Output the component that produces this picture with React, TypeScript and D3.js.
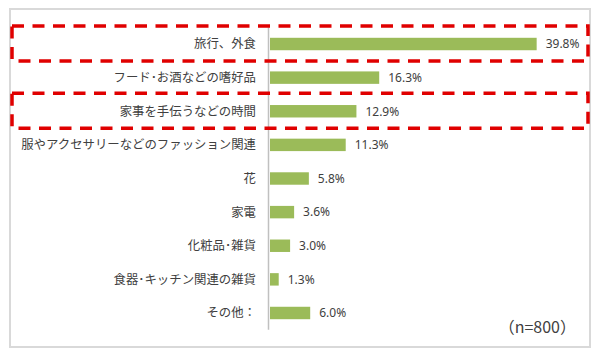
import React from "react";
import * as d3 from "d3";

const categories = [
  "旅行、外食",
  "フード･お酒などの嗜好品",
  "家事を手伝うなどの時間",
  "服やアクセサリーなどのファッション関連",
  "花",
  "家電",
  "化粧品･雑貨",
  "食器･キッチン関連の雑貨",
  "その他：",
];
const values = [39.8, 16.3, 12.9, 11.3, 5.8, 3.6, 3.0, 1.3, 6.0];
const valueLabels = ["39.8%", "16.3%", "12.9%", "11.3%", "5.8%", "3.6%", "3.0%", "1.3%", "6.0%"];
const highlighted = ["旅行、外食", "家事を手伝うなどの時間"];
const sampleNote = "（n=800）";

const W = 600;
const H = 356;

export default function App() {
  const x = d3.scaleLinear().domain([0, 40]).range([270, 538]);
  const y = d3
    .scaleBand<string>()
    .domain(categories)
    .range([27.2, 329.8])
    .paddingInner(0.63)
    .paddingOuter(0.315);
  const bw = y.bandwidth();
  const jp = "'Noto Sans CJK JP', 'Noto Sans', sans-serif";

  return (
    <svg
      width={W}
      height={H}
      viewBox={`0 0 ${W} ${H}`}
      style={{ position: "absolute", left: 0, top: 0, background: "#fff" }}
    >
      <rect x={0} y={0} width={W} height={H} fill="#fff" />
      {/* outer frame */}
      <rect x={10} y={9} width={580} height={338} fill="none" stroke="#d9d9d9" strokeWidth={2} />
      {/* axis line */}
      <line x1={268.5} x2={268.5} y1={y.range()[0]} y2={y.range()[1]} stroke="#c0c0c0" strokeWidth={1.5} />
      {categories.map((c, i) => {
        const cy = (y(c) ?? 0) + bw / 2;
        return (
          <g key={c}>
            <rect x={x(0)} y={y(c)} width={x(values[i]) - x(0)} height={bw} fill="#9bbb59" />
            <text
              x={256}
              y={cy}
              dy="0.36em"
              textAnchor="end"
              fontFamily={jp}
              fontSize={12.4}
              fill="#404040"
            >
              {c}
            </text>
            <text
              x={x(values[i]) + 9}
              y={cy}
              dy="0.36em"
              fontFamily="'Noto Sans', sans-serif"
              fontSize={12}
              fill="#404040"
            >
              {valueLabels[i]}
            </text>
          </g>
        );
      })}
      {/* highlight boxes */}
      {highlighted.map((c) => {
        const cy = (y(c) ?? 0) + bw / 2;
        return (
          <rect
            key={"hl" + c}
            x={12}
            y={cy - 18}
            width={576}
            height={35}
            fill="none"
            stroke="#e00000"
            strokeWidth={3.5}
            strokeDasharray="12,8.5"
          />
        );
      })}
      <text x={576} y={333} textAnchor="end" fontFamily={jp} fontSize={16} fill="#404040">
        {sampleNote}
      </text>
    </svg>
  );
}
